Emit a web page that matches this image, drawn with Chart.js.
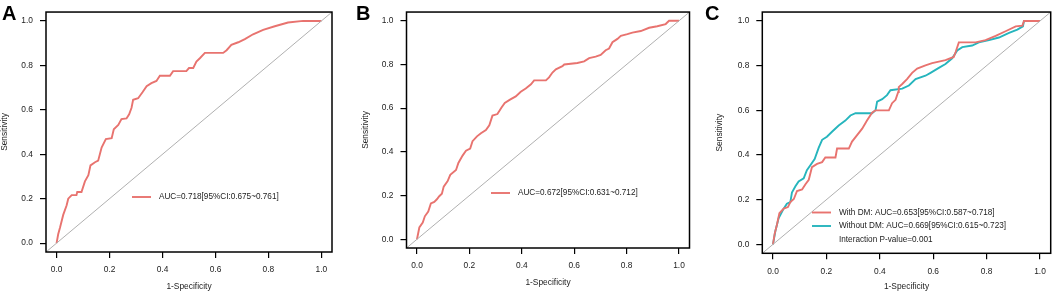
<!DOCTYPE html>
<html>
<head>
<meta charset="utf-8">
<script src="https://cdn.jsdelivr.net/npm/chart.js@4/dist/chart.umd.min.js"></script>
<style>
  body { margin: 0; background: #fff; width: 1053px; height: 295px; position: relative; overflow: hidden; }
  .panel { position: absolute; top: 0; width: 351px; height: 295px; }
</style>
</head>
<body>
<div class="panel" style="left:0px"><canvas id="chartA" width="351" height="295"></canvas></div>
<div class="panel" style="left:351px"><canvas id="chartB" width="351" height="295"></canvas></div>
<div class="panel" style="left:702px"><canvas id="chartC" width="351" height="295"></canvas></div>
<script>
// axis (R style: 4% extension around 0..1)
var axisMin = -0.04;
var axisMax = 1.04;
var tickValues = [0, 0.2, 0.4, 0.6, 0.8, 1.0];
var tickLabels = ['0.0', '0.2', '0.4', '0.6', '0.8', '1.0'];

// panel A
var aFpr = [0, 0.006, 0.013, 0.025, 0.038, 0.044, 0.057, 0.075, 0.078, 0.094, 0.107, 0.12, 0.128, 0.145, 0.157, 0.17, 0.186, 0.208, 0.216, 0.233, 0.245, 0.264, 0.274, 0.283, 0.289, 0.308, 0.325, 0.34, 0.358, 0.377, 0.39, 0.428, 0.44, 0.49, 0.5, 0.516, 0.528, 0.541, 0.56, 0.629, 0.642, 0.66, 0.686, 0.711, 0.742, 0.78, 0.824, 0.874, 0.931, 1.0];
var aTpr = [0, 0.04, 0.07, 0.127, 0.17, 0.2, 0.216, 0.216, 0.23, 0.23, 0.278, 0.306, 0.35, 0.364, 0.371, 0.43, 0.468, 0.472, 0.512, 0.532, 0.558, 0.561, 0.58, 0.609, 0.645, 0.652, 0.68, 0.706, 0.72, 0.73, 0.753, 0.753, 0.774, 0.774, 0.788, 0.788, 0.817, 0.832, 0.856, 0.856, 0.868, 0.892, 0.904, 0.918, 0.94, 0.96, 0.976, 0.993, 1.0, 1.0];
var aLegend = ['AUC=0.718[95%CI:0.675~0.761]'];

// panel B
var bFpr = [0, 0.009, 0.022, 0.03, 0.043, 0.053, 0.066, 0.076, 0.085, 0.095, 0.102, 0.117, 0.127, 0.149, 0.158, 0.174, 0.187, 0.203, 0.212, 0.229, 0.244, 0.263, 0.276, 0.288, 0.307, 0.322, 0.335, 0.355, 0.377, 0.396, 0.415, 0.435, 0.447, 0.492, 0.504, 0.517, 0.53, 0.555, 0.562, 0.612, 0.638, 0.657, 0.682, 0.701, 0.72, 0.733, 0.746, 0.765, 0.778, 0.803, 0.822, 0.854, 0.886, 0.917, 0.949, 0.962, 1.0];
var bTpr = [0, 0.054, 0.076, 0.105, 0.127, 0.164, 0.171, 0.183, 0.197, 0.208, 0.241, 0.266, 0.295, 0.317, 0.349, 0.383, 0.405, 0.415, 0.449, 0.471, 0.485, 0.5, 0.522, 0.566, 0.573, 0.602, 0.624, 0.639, 0.654, 0.675, 0.69, 0.709, 0.727, 0.727, 0.741, 0.763, 0.778, 0.792, 0.8, 0.807, 0.814, 0.829, 0.836, 0.844, 0.865, 0.873, 0.902, 0.917, 0.931, 0.939, 0.946, 0.953, 0.968, 0.975, 0.985, 1.0, 1.0];
var bLegend = ['AUC=0.672[95%CI:0.631~0.712]'];

// panel C
var cWithFpr = [0, 0.006, 0.015, 0.024, 0.04, 0.056, 0.065, 0.078, 0.09, 0.109, 0.121, 0.134, 0.146, 0.165, 0.184, 0.196, 0.234, 0.24, 0.284, 0.296, 0.315, 0.334, 0.352, 0.371, 0.384, 0.434, 0.446, 0.459, 0.469, 0.471, 0.484, 0.502, 0.521, 0.54, 0.571, 0.596, 0.621, 0.646, 0.677, 0.684, 0.696, 0.759, 0.796, 0.834, 0.871, 0.909, 0.934, 0.94, 1.0];
var cWithTpr = [0, 0.046, 0.089, 0.139, 0.16, 0.167, 0.189, 0.203, 0.239, 0.246, 0.268, 0.289, 0.346, 0.36, 0.368, 0.389, 0.389, 0.429, 0.429, 0.46, 0.489, 0.518, 0.554, 0.589, 0.6, 0.6, 0.632, 0.647, 0.682, 0.704, 0.718, 0.74, 0.768, 0.787, 0.801, 0.811, 0.818, 0.825, 0.839, 0.861, 0.904, 0.904, 0.914, 0.933, 0.954, 0.976, 0.979, 1.0, 1.0];
var cWithoutFpr = [0, 0.009, 0.021, 0.04, 0.052, 0.065, 0.071, 0.084, 0.096, 0.115, 0.127, 0.14, 0.156, 0.171, 0.184, 0.202, 0.221, 0.246, 0.271, 0.29, 0.309, 0.371, 0.384, 0.39, 0.409, 0.427, 0.44, 0.484, 0.509, 0.534, 0.571, 0.59, 0.621, 0.646, 0.671, 0.69, 0.709, 0.746, 0.771, 0.809, 0.846, 0.884, 0.915, 0.936, 0.94, 1.0];
var cWithoutTpr = [0, 0.06, 0.117, 0.16, 0.182, 0.189, 0.232, 0.26, 0.282, 0.296, 0.332, 0.354, 0.382, 0.432, 0.468, 0.482, 0.504, 0.532, 0.554, 0.577, 0.587, 0.587, 0.6, 0.639, 0.65, 0.668, 0.69, 0.697, 0.711, 0.74, 0.755, 0.768, 0.79, 0.807, 0.833, 0.868, 0.883, 0.89, 0.904, 0.914, 0.926, 0.947, 0.961, 0.976, 1.0, 1.0];
var cLegend = ['With DM: AUC=0.653[95%CI:0.587~0.718]', 'Without DM: AUC=0.669[95%CI:0.615~0.723]', 'Interaction P-value=0.001'];

var red = '#e8736f';
var teal = '#26b5bd';
var fontFamily = '"Liberation Sans", Arial, Helvetica, sans-serif';

// box around plot + panel letter + legend inside the plot
const rocDecor = {
    id: 'rocDecor',
    afterDatasetsDraw(chart, args, opts) {
        const ctx = chart.ctx;
        const a = chart.chartArea;
        ctx.save();
        ctx.strokeStyle = '#000';
        ctx.lineWidth = 1.5;
        ctx.strokeRect(a.left, a.top, a.right - a.left, a.bottom - a.top);

        ctx.fillStyle = '#000';
        ctx.font = 'bold 20px ' + fontFamily;
        ctx.textBaseline = 'alphabetic';
        ctx.fillText(opts.tag, opts.tagX, 19.5);

        ctx.font = '8.2px ' + fontFamily;
        ctx.textBaseline = 'middle';
        opts.items.forEach(function (it, i) {
            const y = opts.y + i * opts.gap;
            if (it.color) {
                ctx.strokeStyle = it.color;
                ctx.lineWidth = 1.9;
                ctx.beginPath();
                ctx.moveTo(opts.x, y);
                ctx.lineTo(opts.x + 19, y);
                ctx.stroke();
            }
            ctx.fillStyle = '#222';
            ctx.fillText(it.text, opts.x + 27, y);
        });
        ctx.restore();
    }
};

function rocChart(id, curves, lay, decor) {
    var datasets = [{
        data: [{x: axisMin, y: axisMin}, {x: axisMax, y: axisMax}],
        borderColor: '#b0b0b0',
        borderWidth: 1,
        pointRadius: 0,
        showLine: true
    }];
    curves.forEach(function (c) {
        datasets.push({
            data: c.fpr.map(function (v, i) { return {x: v, y: c.tpr[i]}; }),
            borderColor: c.color,
            borderWidth: 1.9,
            pointRadius: 0,
            showLine: true,
            tension: 0
        });
    });

    function axis(title, fitFn, padBottom) {
        return {
            type: 'linear',
            min: axisMin,
            max: axisMax,
            afterBuildTicks: function (s) { s.ticks = tickValues.map(function (v) { return {value: v}; }); },
            afterFit: fitFn,
            ticks: {
                callback: function (v, i) { return tickLabels[i]; },
                padding: 7,
                color: '#222',
                font: {family: fontFamily, size: 8.4},
                maxRotation: 0,
                autoSkip: false
            },
            grid: {drawOnChartArea: false, drawTicks: true, tickLength: 6, color: '#000', lineWidth: 1.2},
            border: {display: false},
            title: {
                display: true,
                text: title,
                color: '#222',
                font: {family: fontFamily, size: 8.4},
                padding: {top: 0, bottom: padBottom}
            }
        };
    }

    new Chart(document.getElementById(id), {
        type: 'scatter',
        data: {datasets: datasets},
        options: {
            responsive: false,
            animation: false,
            layout: {padding: lay.pad},
            plugins: {
                legend: {display: false},
                tooltip: {enabled: false},
                rocDecor: decor
            },
            scales: {
                x: axis('1-Specificity', function (s) { s.height = lay.xh; }, 3),
                y: axis('Sensitivity', function (s) { s.width = lay.yw; }, 0)
            }
        },
        plugins: [rocDecor]
    });
}

rocChart('chartA',
    [{fpr: aFpr, tpr: aTpr, color: red}],
    {pad: {left: 0, top: 2, right: 19, bottom: 0}, yw: 46, xh: 43},
    {tag: 'A', tagX: 2, x: 132, y: 197, gap: 13.5, items: [{text: aLegend[0], color: red}]});

rocChart('chartB',
    [{fpr: bFpr, tpr: bTpr, color: red}],
    {pad: {left: 10, top: 2, right: 12.5, bottom: 4}, yw: 45.5, xh: 43},
    {tag: 'B', tagX: 5, x: 140, y: 193, gap: 13.5, items: [{text: bLegend[0], color: red}]});

rocChart('chartC',
    [{fpr: cWithFpr, tpr: cWithTpr, color: red}, {fpr: cWithoutFpr, tpr: cWithoutTpr, color: teal}],
    {pad: {left: 13, top: 2, right: 2.3, bottom: 0}, yw: 47.3, xh: 41.7},
    {tag: 'C', tagX: 3, x: 110, y: 212.5, gap: 13.5, items: [
        {text: cLegend[0], color: red},
        {text: cLegend[1], color: teal},
        {text: cLegend[2], color: null}
    ]});
</script>
</body>
</html>
